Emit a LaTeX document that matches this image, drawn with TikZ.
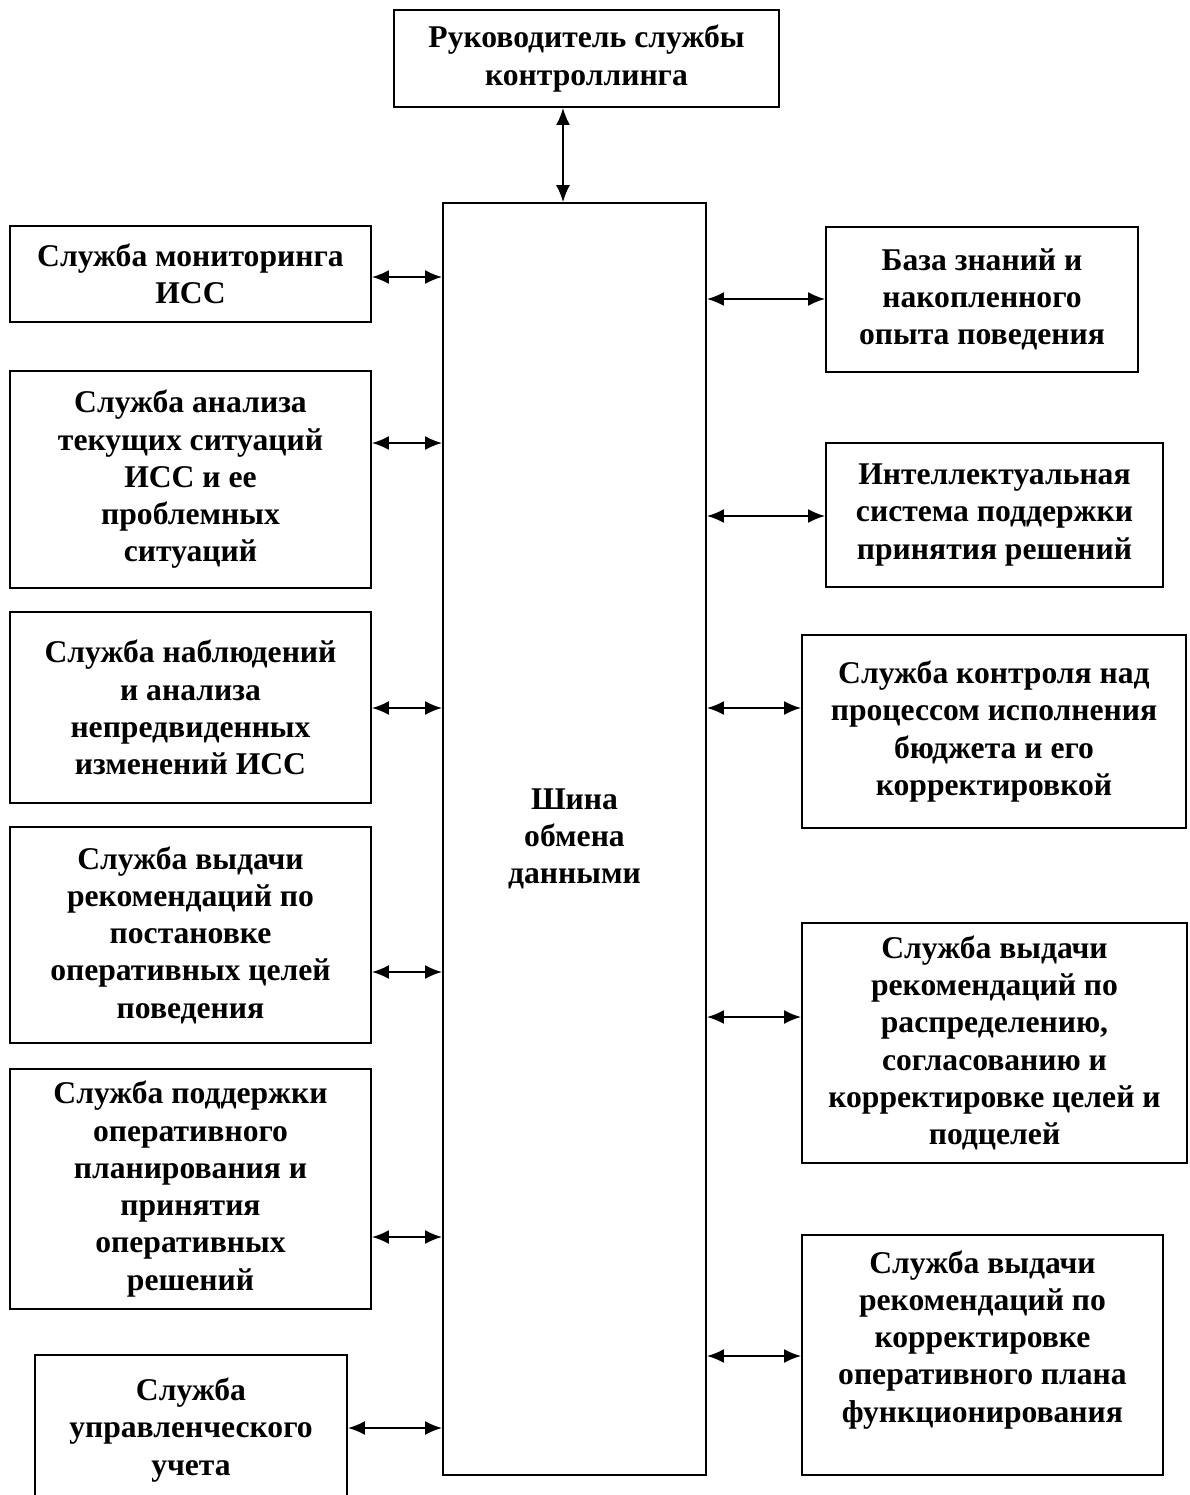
\documentclass[tikz,border=0pt]{standalone}
\usepackage{fontspec}
\setmainfont{Liberation Serif}
\usetikzlibrary{
  shapes,
  calc,
  positioning,
  arrows.meta
}

\begin{document}
\begin{tikzpicture}[x = 0.02cm, y = -0.02cm,
    box/.style = {draw, line width = 1.1pt, align = center, inner sep = 2pt,
                  font = \bfseries\fontsize{18}{21.2}\selectfont},
    link/.style = {{Latex[length=0.34cm,width=0.28cm]}-{Latex[length=0.34cm,width=0.28cm]},
                   line width = 1.1pt}]
    \useasboundingbox (0,0) rectangle (1190,1495);

    % head and bus
    \node[box,minimum width = 7.70cm,minimum height = 1.94cm] (ruk) at (586.5,58.5)
        {\rule{0pt}{0.25cm}Руководитель службы\\контроллинга};
    \node[box,minimum width = 5.26cm,minimum height = 25.44cm] (bus) at (574.5,839)
        {Шина\\обмена\\данными};

    % left column
    \node[box,minimum width = 7.22cm,minimum height = 1.92cm] (l1) at (190.5,274)
        {Служба мониторинга\\ИСС};
    \node[box,minimum width = 7.22cm,minimum height = 4.34cm] (l2) at (190.5,479.5)
        {Служба анализа\\текущих ситуаций\\ИСС и ее\\проблемных\\ситуаций};
    \node[box,minimum width = 7.22cm,minimum height = 3.82cm] (l3) at (190.5,707.5)
        {Служба наблюдений\\и анализа\\непредвиденных\\изменений ИСС};
    \node[box,minimum width = 7.22cm,minimum height = 4.32cm] (l4) at (190.5,935)
        {Служба выдачи\\рекомендаций по\\постановке\\оперативных целей\\поведения};
    \node[box,minimum width = 7.22cm,minimum height = 4.80cm] (l5) at (190.5,1189)
        {Служба поддержки\\оперативного\\планирования и\\принятия\\оперативных\\решений};
    \node[box,minimum width = 6.24cm,minimum height = 3.00cm] (l6) at (191,1430)
        {Служба\\управленческого\\учета};

    % right column
    \node[box,minimum width = 6.24cm,minimum height = 2.90cm] (r1) at (982,299.5)
        {База знаний и\\накопленного\\опыта поведения};
    \node[box,minimum width = 6.74cm,minimum height = 2.88cm] (r2) at (994.5,515)
        {Интеллектуальная\\система поддержки\\принятия решений};
    \node[box,minimum width = 7.68cm,minimum height = 3.86cm] (r3) at (994,731.5)
        {Служба контроля над\\процессом исполнения\\бюджета и его\\корректировкой};
    \node[box,minimum width = 7.70cm,minimum height = 4.80cm] (r4) at (994.5,1043)
        {Служба выдачи\\рекомендаций по\\распределению,\\согласованию и\\корректировке целей и\\подцелей};
    \node[box,minimum width = 7.22cm,minimum height = 4.80cm] (r5) at (982.5,1355)
        {Служба выдачи\\рекомендаций по\\корректировке\\оперативного плана\\функционирования\\};

    % connectors
    \draw[link] (ruk.south -| 563,0) -- (bus.north -| 563,0);
    \draw[link] (l1.east |- 0,277) -- (bus.west |- 0,277);
    \draw[link] (l2.east |- 0,443) -- (bus.west |- 0,443);
    \draw[link] (l3.east |- 0,708) -- (bus.west |- 0,708);
    \draw[link] (l4.east |- 0,972) -- (bus.west |- 0,972);
    \draw[link] (l5.east |- 0,1237) -- (bus.west |- 0,1237);
    \draw[link] (l6.east |- 0,1428) -- (bus.west |- 0,1428);
    \draw[link] (bus.east |- 0,299) -- (r1.west |- 0,299);
    \draw[link] (bus.east |- 0,516) -- (r2.west |- 0,516);
    \draw[link] (bus.east |- 0,708) -- (r3.west |- 0,708);
    \draw[link] (bus.east |- 0,1017) -- (r4.west |- 0,1017);
    \draw[link] (bus.east |- 0,1356) -- (r5.west |- 0,1356);
\end{tikzpicture}
\end{document}
